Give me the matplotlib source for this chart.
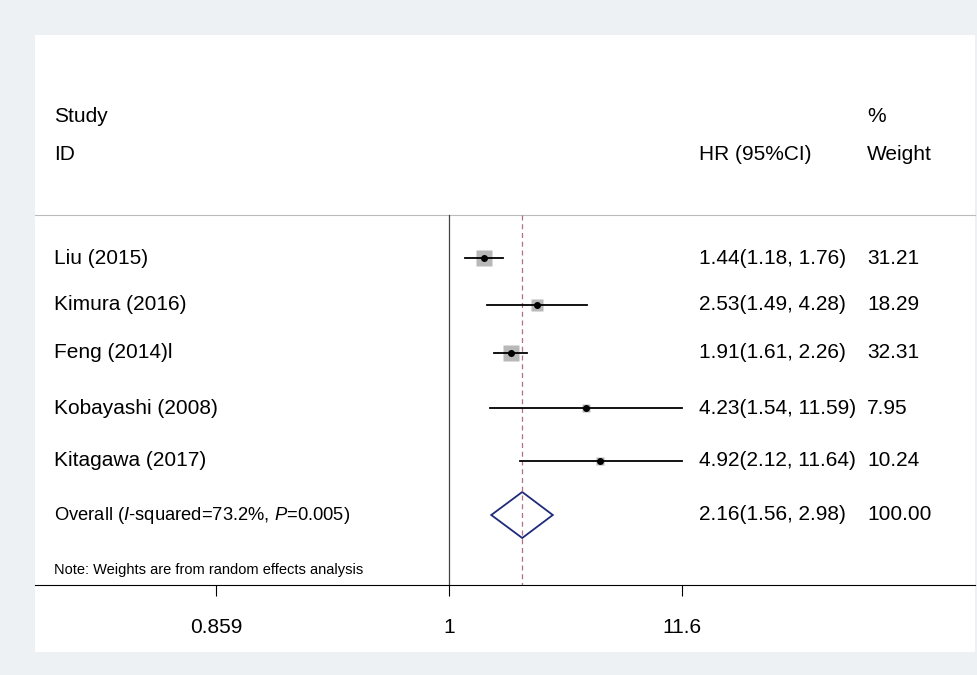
import numpy as np
import matplotlib.pyplot as plt
from matplotlib.patches import Polygon

plt.rcParams['font.family'] = ['Liberation Sans', 'DejaVu Sans']
plt.rcParams['mathtext.fontset'] = 'custom'
plt.rcParams['mathtext.it'] = 'Liberation Sans:italic'
plt.rcParams['mathtext.rm'] = 'Liberation Sans'

studies = ["Liu (2015)", "Kimura (2016)", "Feng (2014)l", "Kobayashi (2008)", "Kitagawa (2017)"]
hr = [1.44, 2.53, 1.91, 4.23, 4.92]
lo = [1.18, 1.49, 1.61, 1.54, 2.12]
hi = [1.76, 4.28, 2.26, 11.59, 11.64]
weight = [31.21, 18.29, 32.31, 7.95, 10.24]
overall = (2.16, 1.56, 2.98)
tick_vals = [1 / 11.6, 1, 11.6]
tick_labels = ["0.859", "1", "11.6"]

W, H = 977, 675
fig = plt.figure(figsize=(W / 100, H / 100), dpi=100, facecolor="#eef1f4")
bg = fig.add_axes([35 / W, 1 - 652 / H, 940 / W, 617 / H], zorder=-1)
bg.axis("off")
bg.add_patch(plt.Rectangle((0, 0), 1, 1, transform=bg.transAxes, color="white"))

ax = fig.add_axes([35 / W, 1 - 585 / H, 940 / W, 550 / H])
ax.patch.set_alpha(0)
scale = 95.07
ax.set_xlim(-(449 - 35) / scale, (975 - 449) / scale)
ax.set_ylim(585, 35)
for s in ["top", "left", "right"]:
    ax.spines[s].set_visible(False)
ax.spines["bottom"].set_linewidth(0.8)
ax.set_xticks(np.log(tick_vals))
ax.set_xticklabels(tick_labels, fontsize=15)
ax.tick_params(axis="x", length=8, width=0.8, pad=16)
ax.set_yticks([])

rows = [258, 305, 353, 408, 461]
ov_y = 515
tr = ax.get_yaxis_transform()

ax.plot([0, 1], [215, 215], transform=tr, color="#bbbbbb", lw=0.8, clip_on=False)
ax.plot([0, 0], [215, 585], color="#444444", lw=0.9)
ax.plot([np.log(overall[0])] * 2, [215, 585], color="#b07080", lw=0.9, ls=(0, (4, 3)))

txt = dict(fontsize=15, va="center", transform=tr)
ax.text(0.02, 117, "Study", **txt)
ax.text(0.02, 154, "ID", **txt)
ax.text(0.706, 154, "HR (95%CI)", **txt)
ax.text(0.885, 117, "%", **txt)
ax.text(0.885, 154, "Weight", **txt)

for y, name, h, l, u, w in zip(rows, studies, hr, lo, hi, weight):
    ax.plot(np.log(h), y, "s", color="#b8b8b8", ms=np.sqrt(w) * 2.0, mec="none")
    ax.plot([np.log(l), np.log(u)], [y, y], color="black", lw=1.3)
    ax.plot(np.log(h), y, "o", color="black", ms=4)
    ax.text(0.02, y, name, **txt)
    ax.text(0.706, y, f"{h:.2f}({l:.2f}, {u:.2f})", **txt)
    ax.text(0.885, y, f"{w:.2f}", **txt)

m, l, u = np.log(overall)
ax.add_patch(Polygon([[l, ov_y], [m, ov_y - 23], [u, ov_y], [m, ov_y + 23]],
                     closed=True, fill=False, edgecolor="#1f2a7a", lw=1.3))
ax.text(0.02, ov_y, "Overall ($\\it{I}$-squared=73.2%, $\\it{P}$=0.005)",
        fontsize=13.2, va="center", transform=tr)
ax.text(0.706, ov_y, "%.2f(%.2f, %.2f)" % overall, **txt)
ax.text(0.885, ov_y, "100.00", **txt)
ax.text(0.02, 570, "Note: Weights are from random effects analysis",
        fontsize=10.5, va="center", transform=tr)

fig.savefig("out.png", dpi=100, facecolor=fig.get_facecolor())
